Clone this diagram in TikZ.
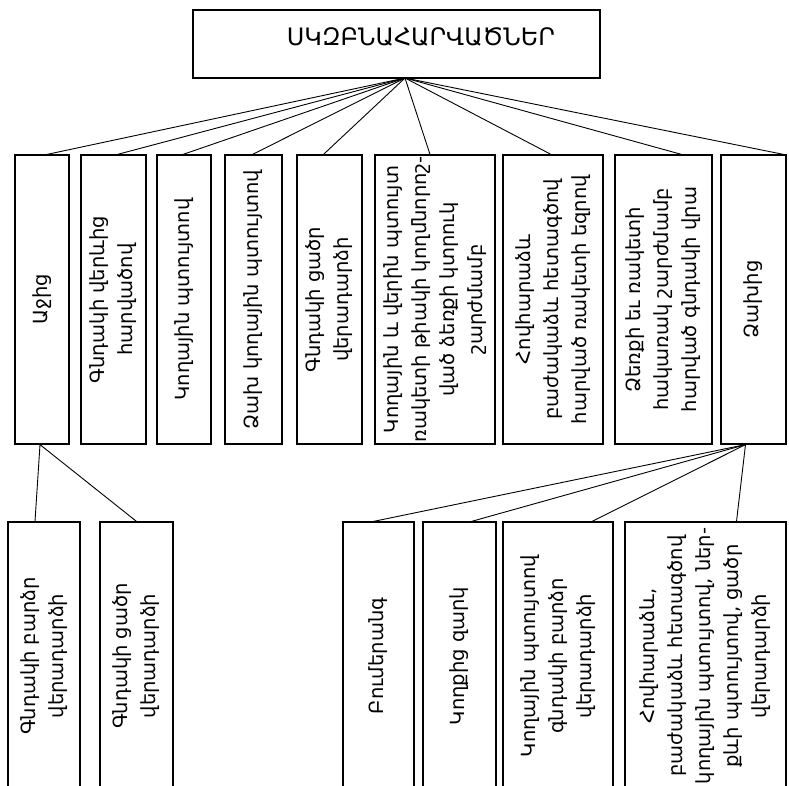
\documentclass[tikz,border=0pt]{standalone}
\usepackage{fontspec}
\setmainfont{DejaVu Sans}
\usetikzlibrary{calc}
\begin{document}
\begin{tikzpicture}[x=1pt,y=1pt,
  box/.style={draw, line width=1.2pt, inner sep=0pt},
  vbox/.style={box, rotate=90, align=center, font=\fontsize{19.5}{28}\selectfont},
  link/.style={line width=0.9pt}]
\clip (0,0) rectangle (789,-785);
\fill[white] (0,0) rectangle (789,-785);
% title box and its caption
\node[box, minimum width=407pt, minimum height=68pt] (title) at (396.5,-44) {};
\node[font=\fontsize{24}{28}\selectfont, inner sep=0pt] (titletext) at (421,-37) {ՍԿԶԲՆԱՀԱՐՎԱԾՆԵՐ};
\coordinate (hub) at (405,-78);
% upper row (rotated boxes: minimum width is the vertical extent)
\node[vbox, minimum width=289pt, minimum height=54pt] (b1) at (42,-299.5) {Աջից};
\node[vbox, minimum width=289pt, minimum height=65pt] (b2) at (113.5,-299.5) {Գնդակի վերևից\\հարվածով};
\node[vbox, minimum width=289pt, minimum height=54pt] (b3) at (184,-299.5) {Կողային պտույտով};
\node[vbox, minimum width=289pt, minimum height=57pt] (b4) at (253.5,-299.5) {Ձախ կողային պտույտով};
\node[vbox, minimum width=289pt, minimum height=65pt] (b5) at (329.5,-299.5) {Գնդակի ցածր\\վերադարձի};
\node[vbox, minimum width=289pt, minimum height=120pt] (b6) at (435,-299.5) {Կողային և վերին պտույտ\\ռակետի թիակի կողմնորոշ-\\ված ձեռքի կտրուկ\\շարժմամբ};
\node[vbox, minimum width=289pt, minimum height=100pt] (b7) at (553,-299.5) {Հովհարաձև\\բաժակաձև հետագծով\\հարված ռակետի եզրով};
\node[vbox, minimum width=289pt, minimum height=97pt] (b8) at (663.5,-299.5) {Ձեռքի եւ ռակետի\\հակառակ շարժմամբ\\հարված գնդակի վրա};
\node[vbox, minimum width=289pt, minimum height=65pt] (b9) at (753.5,-299.5) {Ձախից};
% lower row
\node[vbox, minimum width=268pt, minimum height=72pt] (l1) at (44,-656) {Գնդակի բարձր\\վերադարձի};
\node[vbox, minimum width=268pt, minimum height=73pt] (l2) at (136.5,-656) {Գնդակի ցածր\\վերադարձի};
\node[vbox, minimum width=268pt, minimum height=71pt] (r1) at (378.5,-656) {Բումերանգ};
\node[vbox, minimum width=268pt, minimum height=73pt] (r2) at (459.5,-656) {Կողքից զարկ};
\node[vbox, minimum width=268pt, minimum height=110pt] (r3) at (558,-656) {Կողային պտույտով\\գնդակի բարձր\\վերադարձի};
\node[vbox, minimum width=268pt, minimum height=161pt] (r4) at (705.5,-656) {Հովհարաձև,\\բաժակաձև հետագծով\\կողային պտույտով, ներ-\\քևի պտույտով, ցածր\\վերադարձի};
% connectors from the title
\draw[link] (hub) -- ([xshift=5pt]b1.east);
\draw[link] (hub) -- ([xshift=4pt]b2.east);
\draw[link] (hub) -- ([xshift=-1pt]b3.east);
\draw[link] (hub) -- ([xshift=-1pt]b4.east);
\draw[link] (hub) -- ([xshift=-6pt]b5.east);
\draw[link] (hub) -- ([xshift=-5pt]b6.east);
\draw[link] (hub) -- ([xshift=-2pt]b7.east);
\draw[link] (hub) -- ([xshift=18pt]b8.east);
\draw[link] (hub) -- ([xshift=30pt]b9.east);
% connectors to the lower row
\coordinate (rhub) at ([xshift=-2pt]b1.west);
\draw[link] (rhub) -- ([xshift=-9pt]l1.east);
\draw[link] (rhub) -- ([xshift=0pt]l2.east);
\coordinate (lhub) at ([xshift=-8pt]b9.west);
\draw[link] (lhub) -- ([xshift=-5pt]r1.east);
\draw[link] (lhub) -- ([xshift=12pt]r2.east);
\draw[link] (lhub) -- ([xshift=34pt]r3.east);
\draw[link] (lhub) -- ([xshift=31pt]r4.east);
\end{tikzpicture}
\end{document}
